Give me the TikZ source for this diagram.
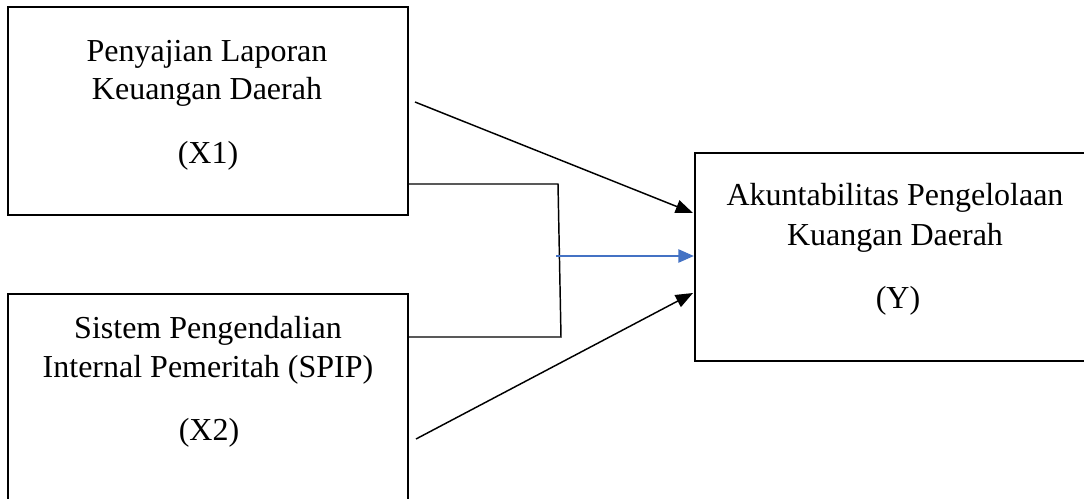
\documentclass[tikz,border=0pt]{standalone}
\usepackage{fontspec}
\setmainfont{Liberation Serif}
\usetikzlibrary{arrows.meta}

\tikzset{every picture/.style={line width=0.75pt}}
\tikzset{
  varbox/.style={draw, rectangle, line width=1.8pt, inner sep=0pt},
  label/.style={anchor=base, font=\fontsize{24}{28.5}\selectfont},
  link/.style={line width=1.1pt},
  arrow/.style={line width=1.1pt, -{Triangle[length=13pt,width=10pt]}},
  bluearrow/.style={line width=0.8pt, draw={rgb, 255:red, 68; green, 114; blue, 196}, -{Triangle[length=11.5pt,width=10pt,fill={rgb, 255:red, 68; green, 114; blue, 196}]}}
}

\begin{document}
\begin{tikzpicture}[x=0.75pt,y=0.75pt,yscale=-1,xscale=1]
\useasboundingbox (0,0) rectangle (1084,499);
\clip (0,0) rectangle (1084,499);

%Shape: Rectangle [X1]
\node [varbox, minimum width=300pt, minimum height=156pt] (penyajian) at (208,111) {};
%Shape: Rectangle [X2]
\node [varbox, minimum width=300pt, minimum height=162pt] (spip) at (208,402) {};
%Shape: Rectangle [Y]
\node [varbox, minimum width=300pt, minimum height=156pt] (akuntabilitas) at (895,257) {};

% Text Node
\node [label] (penyajianA) at (207,62) {Penyajian Laporan};
% Text Node
\node [label] (penyajianB) at (207,100) {Keuangan Daerah};
% Text Node
\node [label] (penyajianC) at (208,163) {(X1)};
% Text Node
\node [label] (spipA) at (208,338) {Sistem Pengendalian};
% Text Node
\node [label] (spipB) at (208,377) {Internal Pemeritah (SPIP)};
% Text Node
\node [label] (spipC) at (209,440) {(X2)};
% Text Node
\node [label] (akuntabilitasA) at (895,205) {Akuntabilitas Pengelolaan};
% Text Node
\node [label] (akuntabilitasB) at (895,245) {Kuangan Daerah};
% Text Node
\node [label] (akuntabilitasC) at (898,308) {(Y)};

% Connection points
\coordinate (joinTop) at (558,184);
\coordinate (joinBot) at (561,337);
\coordinate (joinMid) at (556,256);
\coordinate (startX1) at (415,102);
\coordinate (endX1) at (693,213);
\coordinate (startX2) at (416,439);
\coordinate (endX2) at (693,293);

%Straight Lines [bracket]
\draw [link] (penyajian.east |- joinTop) -- (joinTop) -- (joinBot) -- (spip.east |- joinBot);
%Straight Lines [joint effect]
\draw [bluearrow] (joinMid) -- (akuntabilitas.west |- joinMid);
%Straight Lines [X1 -> Y]
\draw [arrow] (startX1) -- (endX1);
%Straight Lines [X2 -> Y]
\draw [arrow] (startX2) -- (endX2);

\end{tikzpicture}
\end{document}
